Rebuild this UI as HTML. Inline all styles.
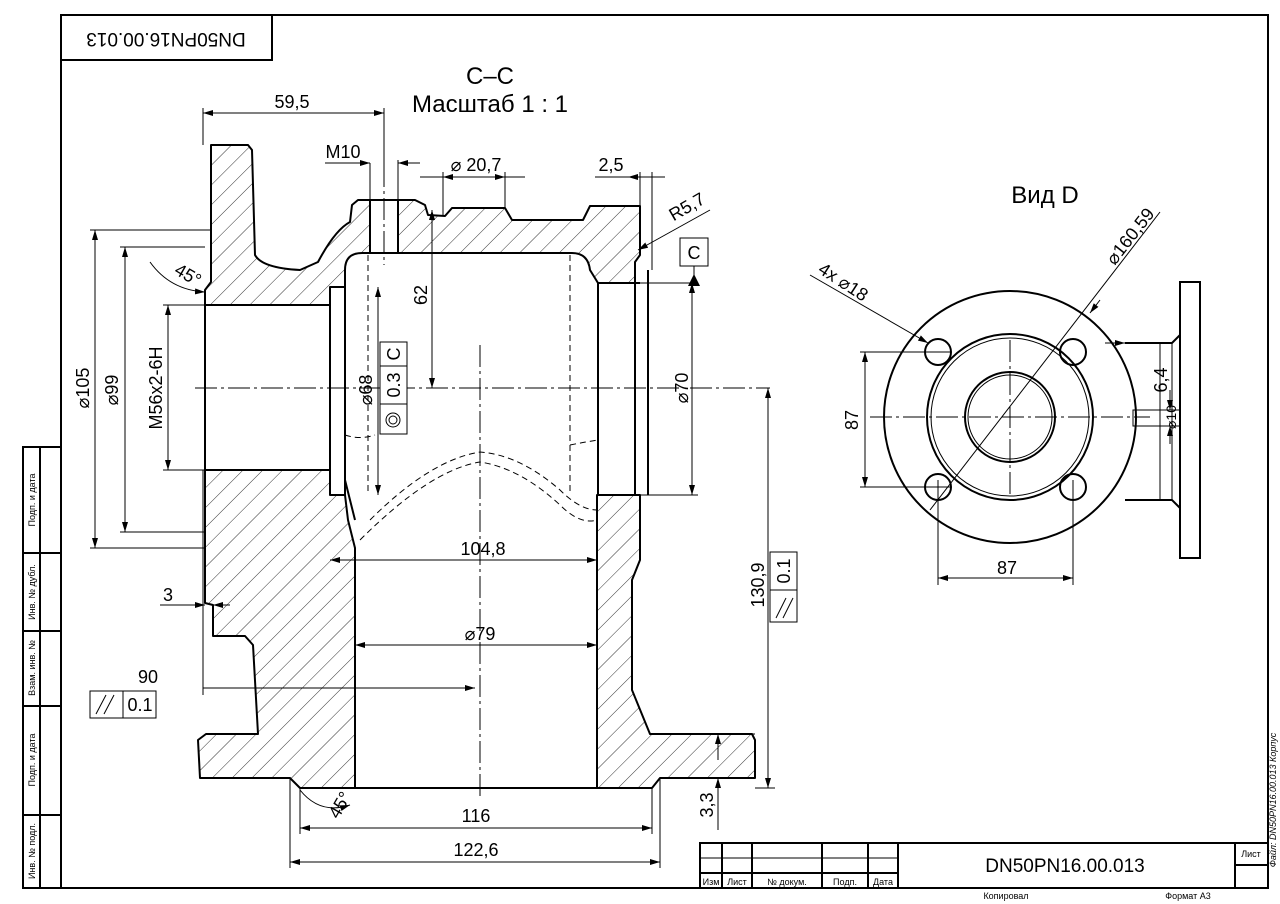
<!DOCTYPE html>
<html><head><meta charset="utf-8"><style>
html,body{margin:0;padding:0;background:#fff;}
svg{display:block;}
text{font-family:"Liberation Sans","DejaVu Sans",sans-serif;fill:#000;}
</style></head><body>
<svg width="1280" height="904" viewBox="0 0 1280 904" xmlns="http://www.w3.org/2000/svg">
<defs>
<pattern id="h" patternUnits="userSpaceOnUse" width="14" height="14" patternTransform="rotate(45)">
<rect width="14" height="14" fill="#fff"/><line x1="0" y1="0" x2="0" y2="14" stroke="#000" stroke-width="0.8"/>
</pattern>
<marker id="a" viewBox="0 0 10 6" refX="10" refY="3" markerWidth="10" markerHeight="6" orient="auto-start-reverse" markerUnits="userSpaceOnUse"><path d="M0,0 L10,3 L0,6 Z" fill="#000"/></marker>
</defs>
<rect x="0" y="0" width="1280" height="904" fill="#fff"/>
<!-- frame -->
<rect x="61" y="15" width="1207" height="873" fill="none" stroke="#000" stroke-width="2"/>
<rect x="61" y="15" width="211" height="45" fill="none" stroke="#000" stroke-width="2"/>
<text x="166" y="38" font-size="19" text-anchor="middle" transform="rotate(180 166 38)" dominant-baseline="middle">DN50PN16.00.013</text>
<!-- left stamp strip -->
<g stroke="#000" stroke-width="2" fill="none">
<rect x="23" y="447" width="38" height="441"/>
<line x1="40" y1="447" x2="40" y2="888"/>
<line x1="23" y1="553" x2="61" y2="553"/>
<line x1="23" y1="631" x2="61" y2="631"/>
<line x1="23" y1="706" x2="61" y2="706"/>
<line x1="23" y1="815" x2="61" y2="815"/>
</g>
<g font-size="9">
<text transform="translate(35,500) rotate(-90)" text-anchor="middle">Подп. и дата</text>
<text transform="translate(35,592) rotate(-90)" text-anchor="middle">Инв. № дубл.</text>
<text transform="translate(35,668) rotate(-90)" text-anchor="middle">Взам. инв. №</text>
<text transform="translate(35,760) rotate(-90)" text-anchor="middle">Подп. и дата</text>
<text transform="translate(35,851) rotate(-90)" text-anchor="middle">Инв. № подл.</text>
</g>
<!-- title block -->
<g stroke="#000" stroke-width="2" fill="none">
<rect x="700" y="843" width="568" height="45"/>
<line x1="722" y1="843" x2="722" y2="888"/><line x1="752" y1="843" x2="752" y2="888"/>
<line x1="822" y1="843" x2="822" y2="888"/><line x1="868" y1="843" x2="868" y2="888"/>
<line x1="898" y1="843" x2="898" y2="888"/><line x1="1235" y1="843" x2="1235" y2="888"/>
<line x1="700" y1="858" x2="898" y2="858" stroke-width="1"/><line x1="700" y1="873" x2="898" y2="873"/>
<line x1="1235" y1="865" x2="1268" y2="865"/>
</g>
<g font-size="9">
<text x="711" y="885" text-anchor="middle">Изм</text><text x="737" y="885" text-anchor="middle">Лист</text>
<text x="787" y="885" text-anchor="middle">№ докум.</text><text x="845" y="885" text-anchor="middle">Подп.</text>
<text x="883" y="885" text-anchor="middle">Дата</text><text x="1251" y="857" text-anchor="middle">Лист</text>
<text x="1006" y="899" text-anchor="middle">Копировал</text><text x="1188" y="899" text-anchor="middle">Формат А3</text>
<text transform="translate(1276,800) rotate(-90)" text-anchor="middle" font-style="italic">Файл: DN50PN16.00.013 Корпус</text>
</g>
<text x="1065" y="872" font-size="19" text-anchor="middle">DN50PN16.00.013</text>
<!-- titles -->
<text x="490" y="84" font-size="24" text-anchor="middle">С–С</text>
<text x="490" y="112" font-size="24" text-anchor="middle">Масштаб 1 : 1</text>
<text x="1045" y="203" font-size="24" text-anchor="middle">Вид D</text>

<!-- section walls -->
<g stroke="#000" stroke-width="2" fill="url(#h)" stroke-linejoin="round">
<path d="M211,145 L248,145 L252,150 L255,255 Q262,268 300,270 L318,262 Q335,230 350,222 L352,205 L358,200 L415,200 L425,205 L428,215 L445,216 L452,208 L505,208 L512,220 L583,220 L590,206 L640,206 L640,255 L635,262 L635,283 L598,283 L590,270 Q588,253 572,253 L362,253 Q345,253 345,270 L345,287 L330,287 L330,305 L205,305 L205,290 L211,282 Z"/>
<path d="M205,470 L330,470 L330,495 L345,495 L348,520 L355,548 L355,788 L300,788 L290,778 L200,778 L198,740 L206,734 L258,734 L253,645 L245,636 L213,636 L213,605 L205,603 Z"/>
<path d="M597,495 L640,495 L640,560 L632,580 L632,690 L650,734 L752,734 L755,740 L755,778 L660,778 L652,788 L597,788 Z"/>
</g>
<g stroke="#000" stroke-width="2" fill="none">
<rect x="370" y="200" width="28" height="53" fill="#fff"/>
<line x1="205" y1="305" x2="205" y2="470"/><line x1="205" y1="305" x2="330" y2="305"/><line x1="205" y1="470" x2="330" y2="470"/>
<line x1="330" y1="287" x2="330" y2="495"/><line x1="345" y1="287" x2="345" y2="495"/>
<line x1="598" y1="283" x2="598" y2="495"/><line x1="635" y1="270" x2="635" y2="495"/><line x1="648" y1="270" x2="648" y2="495"/>
<line x1="598" y1="283" x2="640" y2="283"/><line x1="598" y1="495" x2="640" y2="495"/>
<line x1="355" y1="788" x2="597" y2="788"/>
<path d="M345,480 Q350,500 355,520" />
</g>
<!-- hidden lines -->
<g stroke="#000" stroke-width="1" fill="none" stroke-dasharray="6,4">
<path d="M370,520 Q430,460 480,452 Q520,455 560,490 Q580,510 597,510"/>
<path d="M360,540 Q430,470 480,462 Q520,468 560,505 Q580,525 597,520"/>
<line x1="368" y1="255" x2="368" y2="495"/><line x1="570" y1="255" x2="570" y2="495"/>
<path d="M345,435 Q360,440 375,435"/><path d="M570,445 Q585,442 598,440"/>
</g>
<!-- center lines -->
<g stroke="#000" stroke-width="1" stroke-dasharray="22,4,3,4" fill="none">
<line x1="195" y1="388" x2="770" y2="388"/>
<line x1="480" y1="345" x2="480" y2="800"/>
<line x1="384" y1="165" x2="384" y2="265"/>
<line x1="870" y1="417" x2="1150" y2="417"/><line x1="1010" y1="340" x2="1010" y2="495"/>
</g>
<!-- dimension lines -->
<g stroke="#000" stroke-width="1" fill="none">
<line x1="203" y1="113" x2="384" y2="113" marker-start="url(#a)" marker-end="url(#a)"/>
<line x1="203" y1="108" x2="203" y2="145"/><line x1="384" y1="108" x2="384" y2="165"/>
<line x1="325" y1="163" x2="370" y2="163" marker-end="url(#a)"/><line x1="398" y1="163" x2="420" y2="163" marker-start="url(#a)"/>
<line x1="370" y1="163" x2="370" y2="200"/><line x1="398" y1="160" x2="398" y2="200"/>
<line x1="420" y1="177" x2="525" y2="177"/><line x1="443" y1="177" x2="505" y2="177" marker-start="url(#a)" marker-end="url(#a)"/>
<line x1="443" y1="172" x2="443" y2="216"/><line x1="505" y1="172" x2="505" y2="208"/>
<line x1="595" y1="177" x2="665" y2="177"/><line x1="628" y1="177" x2="640" y2="177" marker-start="url(#a)"/>
<line x1="640" y1="172" x2="640" y2="206"/><line x1="652" y1="172" x2="652" y2="270"/>
<line x1="710" y1="210" x2="638" y2="250" marker-end="url(#a)"/>
<line x1="432" y1="210" x2="432" y2="388" marker-start="url(#a)" marker-end="url(#a)"/>
<line x1="378" y1="287" x2="378" y2="495" marker-start="url(#a)" marker-end="url(#a)"/>
<line x1="692" y1="283" x2="692" y2="495" marker-start="url(#a)" marker-end="url(#a)"/>
<line x1="640" y1="283" x2="698" y2="283"/><line x1="640" y1="495" x2="698" y2="495"/>
<line x1="95" y1="230" x2="95" y2="548" marker-start="url(#a)" marker-end="url(#a)"/>
<line x1="90" y1="230" x2="211" y2="230"/><line x1="90" y1="548" x2="205" y2="548"/>
<line x1="125" y1="247" x2="125" y2="532" marker-start="url(#a)" marker-end="url(#a)"/>
<line x1="120" y1="247" x2="205" y2="247"/><line x1="120" y1="532" x2="205" y2="532"/>
<line x1="168" y1="305" x2="168" y2="470" marker-start="url(#a)" marker-end="url(#a)"/>
<line x1="163" y1="305" x2="205" y2="305"/><line x1="163" y1="470" x2="205" y2="470"/>
<path d="M150,262 Q170,290 205,292" marker-end="url(#a)"/>
<line x1="330" y1="560" x2="597" y2="560" marker-start="url(#a)" marker-end="url(#a)"/>
<line x1="355" y1="645" x2="597" y2="645" marker-start="url(#a)" marker-end="url(#a)"/>
<line x1="203" y1="688" x2="475" y2="688" marker-end="url(#a)"/>
<line x1="203" y1="470" x2="203" y2="695"/>
<line x1="160" y1="605" x2="205" y2="605" marker-end="url(#a)"/><line x1="213" y1="605" x2="230" y2="605" marker-start="url(#a)"/>
<line x1="768" y1="388" x2="768" y2="788" marker-start="url(#a)" marker-end="url(#a)"/>
<line x1="755" y1="788" x2="775" y2="788"/>
<line x1="718" y1="734" x2="718" y2="760" marker-start="url(#a)"/><line x1="718" y1="778" x2="718" y2="830" marker-start="url(#a)"/>
<line x1="700" y1="734" x2="755" y2="734"/><line x1="700" y1="778" x2="755" y2="778"/>
<line x1="300" y1="828" x2="652" y2="828" marker-start="url(#a)" marker-end="url(#a)"/>
<line x1="300" y1="788" x2="300" y2="834"/><line x1="652" y1="788" x2="652" y2="834"/>
<line x1="290" y1="862" x2="660" y2="862" marker-start="url(#a)" marker-end="url(#a)"/>
<line x1="290" y1="778" x2="290" y2="868"/><line x1="660" y1="778" x2="660" y2="868"/>
<path d="M300,790 Q320,815 350,805" marker-end="url(#a)"/>
</g>
<!-- dim text -->
<g font-size="18">
<text x="292" y="108" text-anchor="middle">59,5</text>
<text x="343" y="158" text-anchor="middle">M10</text>
<text x="476" y="171" text-anchor="middle">⌀ 20,7</text>
<text x="611" y="171" text-anchor="middle">2,5</text>
<text transform="translate(690,212) rotate(-30)" text-anchor="middle">R5,7</text>
<text transform="translate(427,295) rotate(-90)" text-anchor="middle">62</text>
<text transform="translate(372,390) rotate(-90)" text-anchor="middle">⌀68</text>
<text transform="translate(688,388) rotate(-90)" text-anchor="middle">⌀70</text>
<text transform="translate(89,388) rotate(-90)" text-anchor="middle">⌀105</text>
<text transform="translate(118,390) rotate(-90)" text-anchor="middle">⌀99</text>
<text transform="translate(162,388) rotate(-90)" text-anchor="middle">M56x2-6H</text>
<text transform="translate(185,280) rotate(30)" text-anchor="middle">45°</text>
<text x="483" y="555" text-anchor="middle">104,8</text>
<text x="480" y="640" text-anchor="middle">⌀79</text>
<text x="148" y="683" text-anchor="middle">90</text>
<text x="168" y="601" text-anchor="middle">3</text>
<text transform="translate(764,585) rotate(-90)" text-anchor="middle">130,9</text>
<text transform="translate(713,805) rotate(-90)" text-anchor="middle">3,3</text>
<text x="476" y="822" text-anchor="middle">116</text>
<text x="476" y="856" text-anchor="middle">122,6</text>
<text transform="translate(345,808) rotate(-60)" text-anchor="middle">45°</text>
</g>
<!-- feature control frames -->
<g stroke="#000" stroke-width="1" fill="#fff">
<rect x="90" y="691" width="66" height="27"/><line x1="123" y1="691" x2="123" y2="718"/>
<rect x="380" y="342" width="27" height="92"/><line x1="380" y1="366" x2="407" y2="366"/><line x1="380" y1="404" x2="407" y2="404"/>
<rect x="770" y="552" width="27" height="70"/><line x1="770" y1="590" x2="797" y2="590"/>
<rect x="680" y="238" width="28" height="28"/>
<circle cx="393" cy="420" r="7"/><circle cx="393" cy="420" r="4"/>
</g>
<g stroke="#000" stroke-width="1"><line x1="96" y1="714" x2="106" y2="695"/><line x1="104" y1="714" x2="114" y2="695"/>
<line x1="776" y1="618" x2="786" y2="598"/><line x1="783" y1="618" x2="793" y2="598"/><line x1="694" y1="266" x2="694" y2="283"/></g>
<path d="M688,286 L694,274 L700,286 Z" fill="#000"/>
<g font-size="18">
<text x="140" y="711" text-anchor="middle">0.1</text>
<text transform="translate(400,385) rotate(-90)" text-anchor="middle">0.3</text>
<text transform="translate(400,354) rotate(-90)" text-anchor="middle">C</text>
<text transform="translate(790,571) rotate(-90)" text-anchor="middle">0.1</text>
<text x="694" y="259" text-anchor="middle">C</text>
</g>
<!-- View D -->
<g stroke="#000" stroke-width="2" fill="none">
<circle cx="1010" cy="417" r="126"/>
<circle cx="1010" cy="417" r="83"/><circle cx="1010" cy="417" r="79" stroke-width="1"/>
<circle cx="1010" cy="417" r="45"/><circle cx="1010" cy="417" r="42" stroke-width="1"/>
<circle cx="938" cy="352" r="13"/><circle cx="1073" cy="352" r="13"/>
<circle cx="938" cy="487" r="13"/><circle cx="1073" cy="487" r="13"/>
<rect x="1180" y="282" width="20" height="276"/>
<path d="M1125,343 L1172,343 L1180,335 M1125,500 L1172,500 L1180,508"/>
<line x1="1160" y1="343" x2="1160" y2="500" stroke-width="1"/><line x1="1172" y1="343" x2="1172" y2="500" stroke-width="1"/>
<rect x="1133" y="410" width="47" height="16" stroke-width="1"/>
</g>
<g stroke="#000" stroke-width="1" fill="none">
<line x1="860" y1="352" x2="950" y2="352"/><line x1="860" y1="487" x2="950" y2="487"/>
<line x1="865" y1="352" x2="865" y2="487" marker-start="url(#a)" marker-end="url(#a)"/>
<line x1="938" y1="480" x2="938" y2="585"/><line x1="1073" y1="480" x2="1073" y2="585"/>
<line x1="938" y1="578" x2="1073" y2="578" marker-start="url(#a)" marker-end="url(#a)"/>
<line x1="810" y1="275" x2="928" y2="343" marker-end="url(#a)"/>
<line x1="1160" y1="212" x2="930" y2="510"/>
<line x1="1100" y1="300" x2="1090" y2="313" marker-end="url(#a)"/>
<line x1="1170" y1="390" x2="1170" y2="410" marker-end="url(#a)"/><line x1="1170" y1="444" x2="1170" y2="426" marker-end="url(#a)"/>
<line x1="1105" y1="343" x2="1125" y2="343" marker-end="url(#a)"/>
</g>
<g font-size="18">
<text transform="translate(858,420) rotate(-90)" text-anchor="middle">87</text>
<text x="1007" y="574" text-anchor="middle">87</text>
<text transform="translate(840,287) rotate(33)" text-anchor="middle">4x ⌀18</text>
<text transform="translate(1135,240) rotate(-52)" text-anchor="middle">⌀160,59</text>
<text transform="translate(1167,380) rotate(-90)" text-anchor="middle">6,4</text>
<text transform="translate(1176,417) rotate(-90)" text-anchor="middle" font-size="14">⌀10</text>
</g>
</svg>
</body></html>
